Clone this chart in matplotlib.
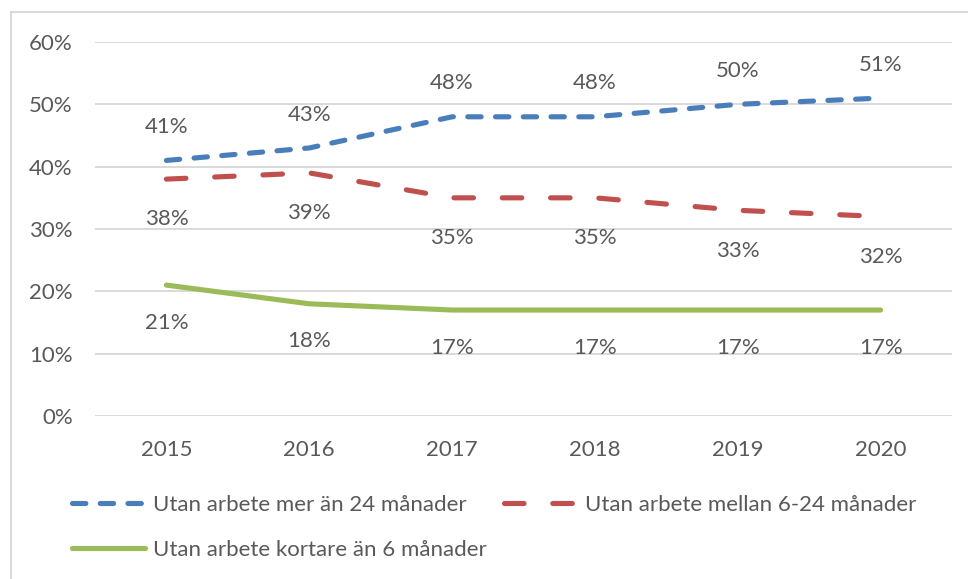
import numpy as np
import matplotlib.pyplot as plt
from matplotlib.patches import Rectangle

years = ["2015", "2016", "2017", "2018", "2019", "2020"]
over_24 = [41, 43, 48, 48, 50, 51]
between_6_24 = [38, 39, 35, 35, 33, 32]
under_6 = [21, 18, 17, 17, 17, 17]
names = ["Utan arbete mer än 24 månader",
         "Utan arbete mellan 6-24 månader",
         "Utan arbete kortare än 6 månader"]

plt.rcParams['font.family'] = ['Lato', 'DejaVu Sans']
TXT = '#595959'
FS = 16

fig = plt.figure(figsize=(9.68, 5.79), dpi=100)
ax = fig.add_axes([95/968, 1 - 416/579, (952 - 95)/968, (416 - 42)/579])

# border of the chart area (cropped on the right and bottom)
fig.add_artist(Rectangle((11/968, -0.1), 1.2, 1 - 12/579 + 0.1,
                         transform=fig.transFigure, fill=False,
                         edgecolor='#d9d9d9', lw=1.5))

x = np.arange(len(years))
lw = 3.7
l1, = ax.plot(x, over_24, color='#4a7ebb', lw=lw, dash_capstyle='round',
              dashes=(2.6, 2.8), label=names[0])
l2, = ax.plot(x, between_6_24, color='#c0504d', lw=lw, dash_capstyle='round',
              dashes=(3.8, 5.6), label=names[1])
l3, = ax.plot(x, under_6, color='#9bbb59', lw=lw, solid_capstyle='round',
              label=names[2])

for xi, v in zip(x, over_24):
    ax.annotate(f"{v}%", (xi, v), xytext=(0, 24), textcoords='offset points',
                ha='center', va='center', fontsize=FS, color=TXT)
for xi, v in zip(x, between_6_24):
    ax.annotate(f"{v}%", (xi, v), xytext=(0, -29), textcoords='offset points',
                ha='center', va='center', fontsize=FS, color=TXT)
for xi, v in zip(x, under_6):
    ax.annotate(f"{v}%", (xi, v), xytext=(0, -27), textcoords='offset points',
                ha='center', va='center', fontsize=FS, color=TXT)

ax.set_xlim(-0.5, len(years) - 0.5)
ax.set_ylim(0, 60)
ax.set_yticks(range(0, 61, 10))
ax.set_yticklabels([f"{t}%" for t in range(0, 61, 10)])
ax.set_xticks(x)
ax.set_xticklabels(years)
ax.tick_params(axis='y', length=0, pad=16, labelsize=FS, labelcolor=TXT)
ax.tick_params(axis='x', length=0, pad=17, labelsize=FS, labelcolor=TXT)
ax.grid(axis='y', color='#d9d9d9', lw=1.4)
ax.set_axisbelow(True)
for s in ax.spines.values():
    s.set_visible(False)

leg_kw = dict(loc='upper left', frameon=False, fontsize=FS, labelcolor=TXT,
              handlelength=3.3, handletextpad=0.35, labelspacing=1.13,
              borderaxespad=0, borderpad=0)
leg1 = fig.legend(handles=[l1, l3], bbox_to_anchor=(72/968, 1 - 495/579), **leg_kw)
leg2 = fig.legend(handles=[l2], bbox_to_anchor=(504/968, 1 - 495/579), **leg_kw)

fig.savefig("out.png", dpi=100)
